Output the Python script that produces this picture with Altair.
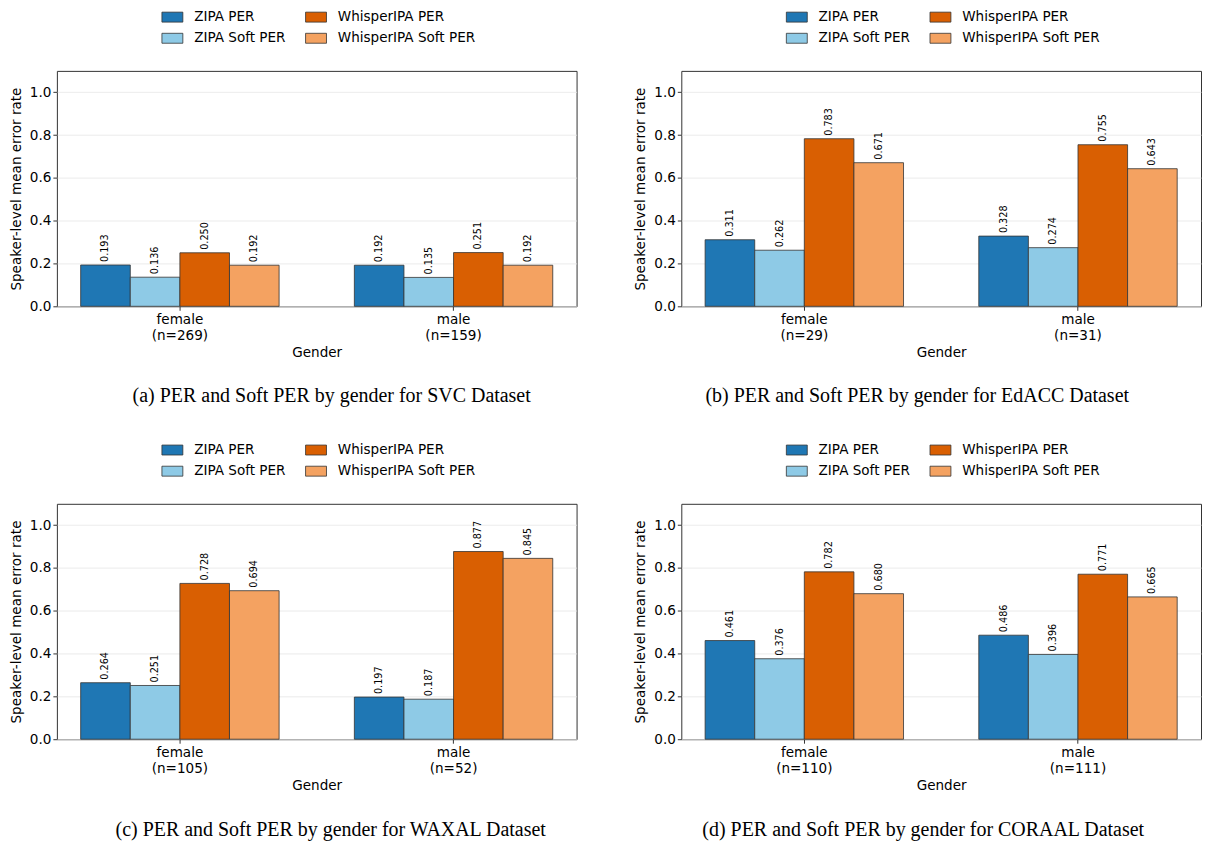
import altair as alt
import pandas as pd

series = ["ZIPA PER", "ZIPA Soft PER", "WhisperIPA PER", "WhisperIPA Soft PER"]
series_colors = ["#1f77b4", "#8ecae6", "#d95f02", "#f4a261"]
genders = ["female", "male"]
y_ticks = [0.0, 0.2, 0.4, 0.6, 0.8, 1.0]

svc_n = [269, 159]
svc_female = [0.193, 0.136, 0.250, 0.192]
svc_male = [0.192, 0.135, 0.251, 0.192]

edacc_n = [29, 31]
edacc_female = [0.311, 0.262, 0.783, 0.671]
edacc_male = [0.328, 0.274, 0.755, 0.643]

waxal_n = [105, 52]
waxal_female = [0.264, 0.251, 0.728, 0.694]
waxal_male = [0.197, 0.187, 0.877, 0.845]

coraal_n = [110, 111]
coraal_female = [0.461, 0.376, 0.782, 0.680]
coraal_male = [0.486, 0.396, 0.771, 0.665]

captions = [
    "(a) PER and Soft PER by gender for SVC Dataset",
    "(b) PER and Soft PER by gender for EdACC Dataset",
    "(c) PER and Soft PER by gender for WAXAL Dataset",
    "(d) PER and Soft PER by gender for CORAAL Dataset",
]

FONT = "DejaVu Sans"
FS = 13.6


def panel(n, fem, mal, caption, cap_dx, cap_offset):
    rows = []
    groups = []
    for g, nn, vals in zip(genders, n, [fem, mal]):
        label = f"{g}|(n={nn})"
        groups.append(label)
        for s, v in zip(series, vals):
            rows.append({"group": label, "series": s, "value": v})
    df = pd.DataFrame(rows)

    x = alt.X(
        "group:N",
        sort=groups,
        scale=alt.Scale(paddingInner=0.275, paddingOuter=0.087),
        axis=alt.Axis(
            title="Gender",
            labelAngle=0,
            labelExpr="split(datum.label, '|')",
            labelLineHeight=16,
            labelPadding=2,
            titlePadding=4,
        ),
    )
    xo = alt.XOffset("series:N", sort=series, scale=alt.Scale(paddingInner=0, paddingOuter=0))
    y = alt.Y(
        "value:Q",
        scale=alt.Scale(domain=[0, 1.1], nice=False, zero=True),
        axis=alt.Axis(
            title="Speaker-level mean error rate",
            values=y_ticks,
            format=".1f",
            grid=True,
            labelPadding=2,
            titlePadding=6,
        ),
    )
    color = alt.Color(
        "series:N",
        scale=alt.Scale(domain=series, range=series_colors),
        legend=alt.Legend(
            title=None,
            orient="none",
            legendX=109,
            legendY=-61,
            columns=2,
            symbolType="M-2,-0.95H2V0.95H-2Z",
            symbolSize=110,
            symbolStrokeColor="#333333",
            symbolStrokeWidth=0.8,
            labelFont=FONT,
            labelFontSize=FS,
            labelColor="black",
            labelOffset=15,
            columnPadding=17,
            rowPadding=6.5,
        ),
    )
    bars = alt.Chart(df).mark_bar(stroke="#333333", strokeWidth=0.8).encode(
        x=x, xOffset=xo, y=y, color=color
    )
    text = alt.Chart(df).mark_text(
        angle=270, align="left", baseline="middle", dx=3, fontSize=9.7, font=FONT, color="black"
    ).encode(x=x, xOffset=xo, y=y, text=alt.Text("value:Q", format=".3f"))
    return alt.layer(bars, text).properties(
        width=521,
        height=236,
        title=alt.TitleParams(
            caption,
            orient="bottom",
            font="Liberation Serif",
            fontSize=20,
            fontWeight="normal",
            color="black",
            offset=cap_offset,
            dx=cap_dx,
        ),
    )


a = panel(svc_n, svc_female, svc_male, captions[0], 15, 27)
b = panel(edacc_n, edacc_female, edacc_male, captions[1], -24, 27)
c = panel(waxal_n, waxal_female, waxal_male, captions[2], 14, 28)
d = panel(coraal_n, coraal_female, coraal_male, captions[3], -18, 28)

row1 = alt.hconcat(a, b, spacing=55).resolve_scale(color="independent")
row2 = alt.hconcat(c, d, spacing=55).resolve_scale(color="independent")
chart = (
    alt.vconcat(row1, row2, spacing=35)
    .resolve_scale(color="independent")
    .properties(padding=0)
    .configure_view(stroke="#333333", strokeWidth=1)
    .configure_axis(
        domain=False,
        tickColor="#333333",
        tickSize=4,
        labelColor="black",
        titleColor="black",
        labelFont=FONT,
        titleFont=FONT,
        labelFontSize=FS,
        titleFontSize=FS,
        titleFontWeight="normal",
        gridColor="#e6e6e6",
        gridWidth=0.8,
    )
)

chart.save("out.html", embed_options={"renderer": "svg", "actions": False})
